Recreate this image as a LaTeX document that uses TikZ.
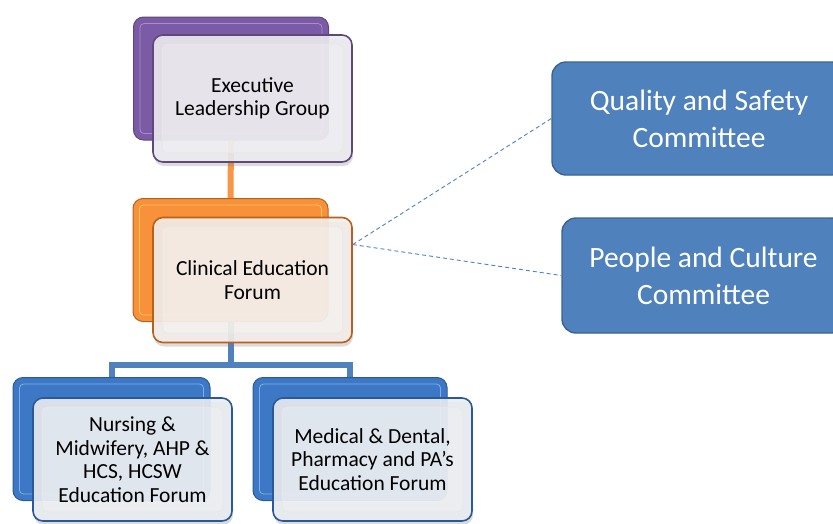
\documentclass[tikz,border=0pt]{standalone}
\usepackage{fontspec}
\setmainfont{Carlito}
\usetikzlibrary{shadows,calc}
\definecolor{purB}{HTML}{7B5AA6}
\definecolor{purD}{HTML}{5F497A}
\definecolor{purL}{HTML}{A98BD0}
\definecolor{orB}{HTML}{F7923A}
\definecolor{orD}{HTML}{B8601C}
\definecolor{orL}{HTML}{FFC45E}
\definecolor{bluB}{HTML}{3D78C6}
\definecolor{bluD}{HTML}{2B5996}
\definecolor{bluL}{HTML}{7FAEE8}
\definecolor{frP}{HTML}{ECEBF0}
\definecolor{frO}{HTML}{F3EEEA}
\definecolor{frB}{HTML}{E9ECF1}
\definecolor{comF}{HTML}{4F81BD}
\definecolor{comD}{HTML}{3A6394}
\definecolor{orLine}{HTML}{F79646}
\definecolor{blLine}{HTML}{4F81BD}
\tikzset{
  backbox/.style n args={3}{rectangle, rounded corners=10pt, draw=#2, line width=1pt,
    fill=#1, minimum width=195pt, minimum height=123pt},
  backbevel/.style={rounded corners=4pt, draw=#1, line width=0.8pt},
  frontbox/.style n args={2}{rectangle, rounded corners=10pt, draw=#2, line width=1.6pt,
    fill=#1, fill opacity=0.9,
    minimum width=199pt, minimum height=125pt,
    drop shadow={opacity=0.28, shadow xshift=1pt, shadow yshift=-4pt}},
  boxtext/.style={text=black, align=center, font=\fontsize{21.5}{23.5}\selectfont},
  bevel/.style={rounded corners=5pt, draw=white!82!gray, line width=0.8pt, fill=white, fill opacity=0.2},
  combox/.style={rectangle, rounded corners=14pt, draw=comD, line width=1.4pt, fill=comF,
    text=white, align=center, font=\fontsize{29.5}{37}\selectfont},
  orconn/.style={draw=orLine, line width=6pt},
  blconn/.style={draw=blLine, line width=6pt},
  dconn/.style={draw=blLine, line width=0.9pt, dash pattern=on 4pt off 3pt}
}
\begin{document}
\begin{tikzpicture}[x=1pt,y=-1pt]
\useasboundingbox (0,0) rectangle (833,523);
\clip (0,0) rectangle (833,523);
% back boxes
\node[backbox={purB}{purD}{purL}] (tb) at (231,78.5) {};
\node[backbox={orB}{orD}{orL}] (mb) at (230.5,260) {};
\node[backbox={bluB}{bluD}{bluL}, minimum width=197pt] (lb) at (111.5,439) {};
\node[backbox={bluB}{bluD}{bluL}, minimum width=194pt] (rb) at (350,439) {};
\foreach \n/\c in {tb/purL,mb/orL,lb/bluL,rb/bluL}{
  \draw[backbevel=\c] ($(\n.north west)+(7,7)$) rectangle ($(\n.south east)+(-7,-7)$);
}
% connectors
\draw[orconn] (tb.south) -- (mb.north);
\draw[blconn] (mb.south) -- ++(0,43) coordinate (j);
\draw[blconn] (lb.north) |- (j) -| (rb.north);
% front boxes
\node[frontbox={frP}{purD}, minimum height=127pt] (tf) at (252.5,98.5) {};
\node[frontbox={frO}{orD}] (mf) at (252.5,280) {};
\node[frontbox={frB}{bluD}, minimum height=123pt] (lf) at (132.5,459.5) {};
\node[frontbox={frB}{bluD}, minimum height=123pt] (rf) at (372.5,459.5) {};
\foreach \n in {tf,mf,lf,rf}{
  \draw[bevel] ($(\n.north west)+(10,10)$) rectangle ($(\n.south east)+(-10,-10)$);
}
\node[boxtext] (tft) at (tf.center) {Executive\\Leadership Group};
\node[boxtext] (mft) at (mf.center) {Clinical Education\\Forum};
\node[boxtext] (lft) at (lf.center) {Nursing \&\\Midwifery, AHP \&\\HCS, HCSW\\Education Forum};
\node[boxtext] (rft) at (rf.center) {Medical \& Dental,\\Pharmacy and PA’s\\Education Forum};
% committees
\node[combox, minimum width=294pt, minimum height=113pt] (qs) at (699,118.5) {Quality and Safety\\Committee};
\node[combox, minimum width=283pt, minimum height=115pt] (pc) at (703.5,275.5) {People and Culture\\Committee};
\coordinate (ds) at ($(mf.north east)!0.22!(mf.south east)$);
\draw[dconn] (ds) -- (qs.west);
\draw[dconn] (ds) -- (pc.west);
\end{tikzpicture}
\end{document}
